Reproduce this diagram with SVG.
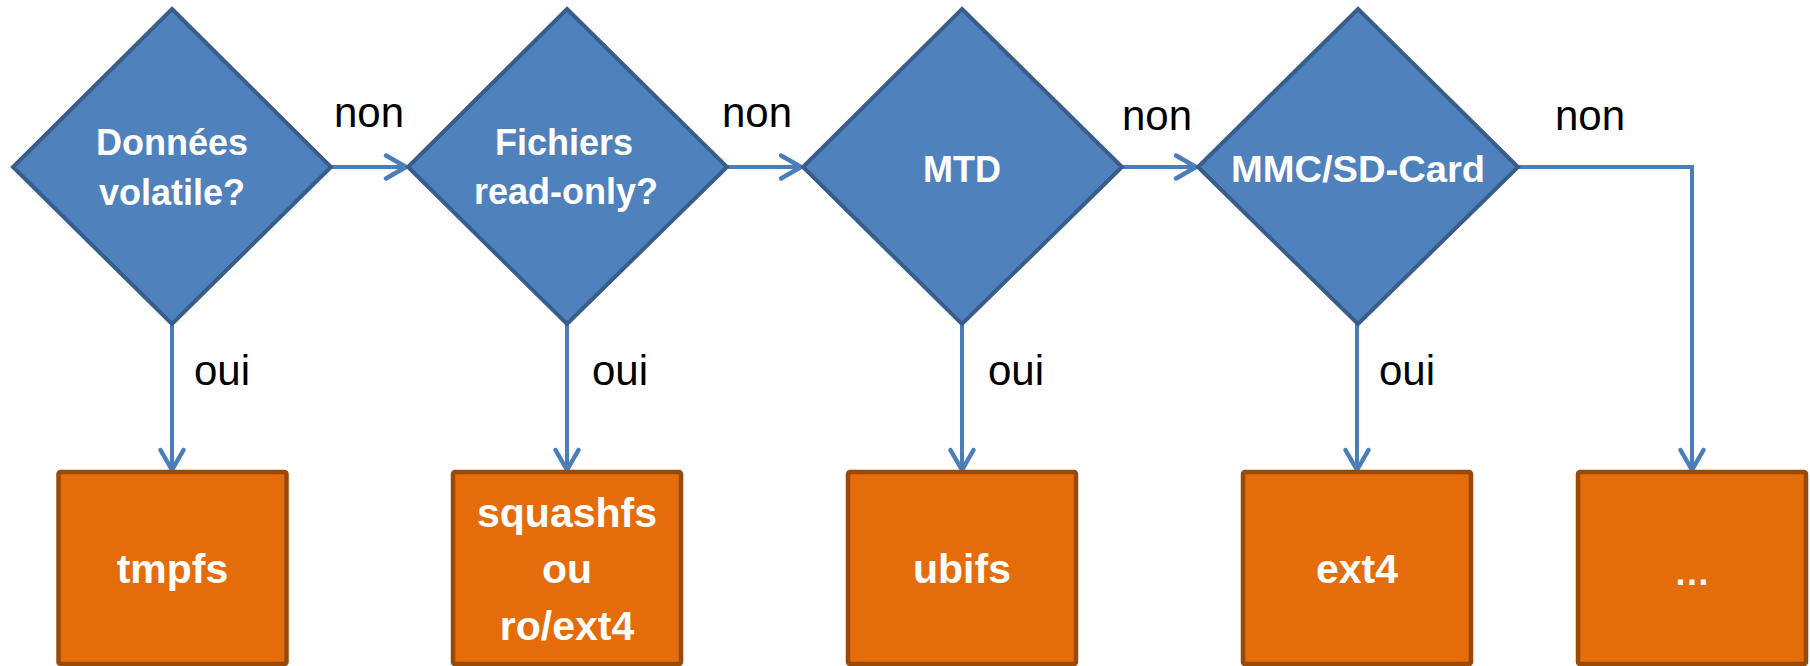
<svg xmlns="http://www.w3.org/2000/svg" width="1810" height="666" viewBox="0 0 1810 666">
<defs>
<style>
.dia{fill:#4F81BD;stroke:#385D8A;stroke-width:4;stroke-linejoin:miter}
.box{fill:#E46C0A;stroke:#9A4A08;stroke-width:4.5}
.conn{fill:none;stroke:#4A7EBB;stroke-width:4}
.lbl{font-family:"Liberation Sans",Arial,sans-serif;font-size:42px;fill:#000}
.dt{font-family:"Liberation Sans",Arial,sans-serif;font-size:36px;font-weight:bold;fill:#fff;text-anchor:middle}
.bt{font-family:"Liberation Sans",Arial,sans-serif;font-size:41px;font-weight:bold;fill:#fff;text-anchor:middle}
</style>
<marker id="arr" markerUnits="userSpaceOnUse" markerWidth="40" markerHeight="40" viewBox="-30 -20 40 40" refX="0" refY="0" orient="auto" overflow="visible">
<path d="M-20,-11.5 L0,0 L-20,11.5" fill="none" stroke="#4A7EBB" stroke-width="4.5" stroke-linecap="round" stroke-linejoin="round"/>
</marker>
</defs>
<rect width="1810" height="666" fill="#fff"/>
<g id="connectors">
<path class="conn" d="M331,167 L406,167" marker-end="url(#arr)"/>
<path class="conn" d="M727,167 L801,167" marker-end="url(#arr)"/>
<path class="conn" d="M1122,167 L1196,167" marker-end="url(#arr)"/>
<path class="conn" d="M1518,167 L1692,167 L1692,470" marker-end="url(#arr)"/>
<path class="conn" d="M172,324 L172,470" marker-end="url(#arr)"/>
<path class="conn" d="M567,324 L567,470" marker-end="url(#arr)"/>
<path class="conn" d="M962,324 L962,470" marker-end="url(#arr)"/>
<path class="conn" d="M1357,324 L1357,470" marker-end="url(#arr)"/>
<text class="lbl" x="334" y="127">non</text>
<text class="lbl" x="722" y="127">non</text>
<text class="lbl" x="1122" y="130">non</text>
<text class="lbl" x="1555" y="130">non</text>
<text class="lbl" x="194" y="385">oui</text>
<text class="lbl" x="592" y="385">oui</text>
<text class="lbl" x="988" y="385">oui</text>
<text class="lbl" x="1379" y="385">oui</text>
</g>
<g id="d1">
<polygon class="dia" points="172,9 331,167 172,324 13,167"/>
<text class="dt" x="172" y="155">Données</text>
<text class="dt" x="172" y="205">volatile?</text>
</g>
<g id="d2">
<polygon class="dia" points="567,9 727,167 567,324 408,167"/>
<text class="dt" x="564" y="155">Fichiers</text>
<text class="dt" x="566" y="204">read-only?</text>
</g>
<g id="d3">
<polygon class="dia" points="962,9 1122,167 962,324 803,167"/>
<text class="dt" x="962" y="182">MTD</text>
</g>
<g id="d4">
<polygon class="dia" points="1358,9 1518,167 1358,324 1198,167"/>
<text class="dt" x="1358" y="182" textLength="254" lengthAdjust="spacingAndGlyphs">MMC/SD-Card</text>
</g>
<g id="b1">
<rect class="box" x="58.5" y="472" width="228" height="192" rx="2"/>
<text class="bt" x="172.5" y="583">tmpfs</text>
</g>
<g id="b2">
<rect class="box" x="453" y="472" width="228" height="192" rx="2"/>
<text class="bt" x="567" y="527">squashfs</text>
<text class="bt" x="567" y="583">ou</text>
<text class="bt" x="567" y="640">ro/ext4</text>
</g>
<g id="b3">
<rect class="box" x="848" y="472" width="228" height="192" rx="2"/>
<text class="bt" x="962" y="583">ubifs</text>
</g>
<g id="b4">
<rect class="box" x="1243" y="472" width="228" height="192" rx="2"/>
<text class="bt" x="1357" y="583">ext4</text>
</g>
<g id="b5">
<rect class="box" x="1578" y="472" width="228" height="192" rx="2"/>
<text class="bt" x="1692" y="585" style="font-size:36px">…</text>
</g>
</svg>
